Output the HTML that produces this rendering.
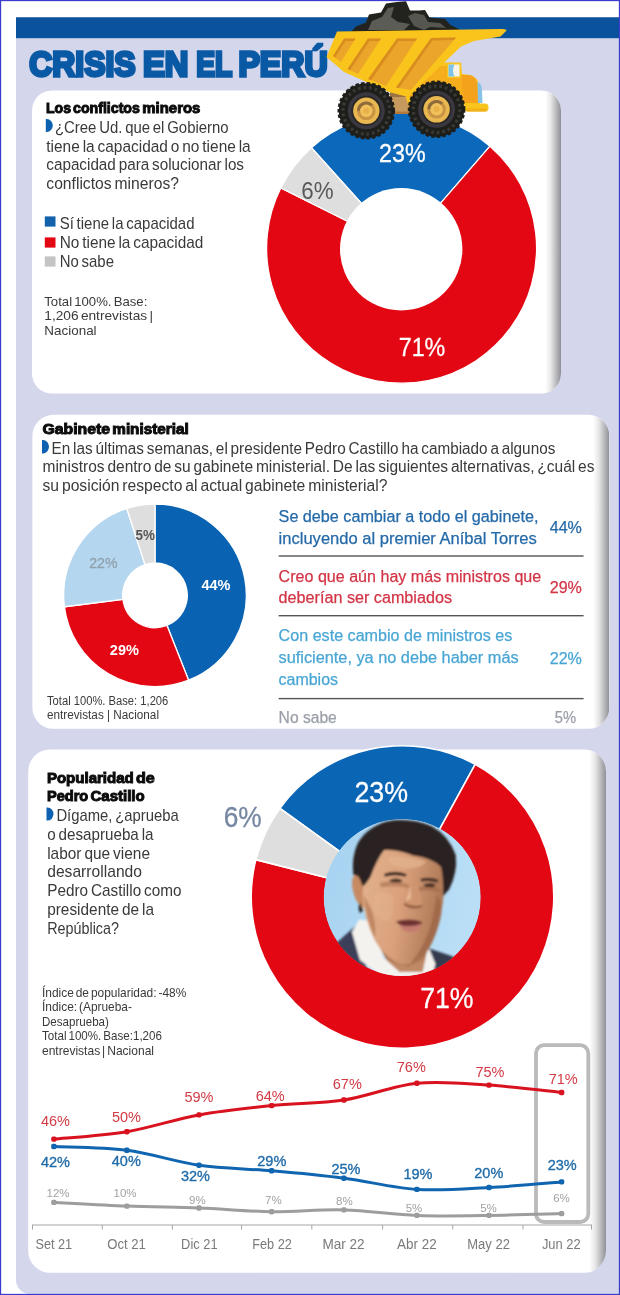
<!DOCTYPE html>
<html lang="es"><head><meta charset="utf-8"><title>Crisis en el Perú</title>
<style>
html,body{margin:0;padding:0;background:#fff;}
body{width:620px;height:1295px;overflow:hidden;position:relative;font-family:"Liberation Sans",sans-serif;}
svg{display:block;position:absolute;left:0;top:0;}
svg text{font-family:"Liberation Sans",sans-serif;white-space:pre;}
</style></head><body>
<svg width="620" height="1295" viewBox="0 0 620 1295">
<defs>
<linearGradient id="edge" x1="0" y1="0" x2="1" y2="0">
<stop offset="0" stop-color="#ffffff"/><stop offset="0.35" stop-color="#e6e6e6"/><stop offset="1" stop-color="#909197"/>
</linearGradient>
</defs>
<rect x="0" y="0" width="620" height="1295" fill="#fff"/>
<path d="M16,17 H619 V1294 H30 A14,14 0 0 1 16,1280 Z" fill="#d4d7ec"/>
<rect x="16" y="17.3" width="603" height="20.9" fill="#0a539c"/>
<rect x="0.5" y="0.5" width="619" height="1294" fill="none" stroke="#3b3bd0" stroke-width="1.3"/>
<text y="76.3" font-size="35.6" fill="#0a59a5" font-weight="bold" stroke="#0a59a5" stroke-width="3.3" stroke-linejoin="miter"><tspan x="29.2" textLength="106.4" lengthAdjust="spacingAndGlyphs">CRISIS</tspan> <tspan x="143.0" textLength="45.4" lengthAdjust="spacingAndGlyphs">EN</tspan> <tspan x="196.2" textLength="35.6" lengthAdjust="spacingAndGlyphs">EL</tspan> <tspan x="238.4" textLength="89.4" lengthAdjust="spacingAndGlyphs">PERÚ</tspan></text>
<clipPath id="c1"><rect x="32" y="90.4" width="529" height="303.20000000000005" rx="20" ry="20"/></clipPath>
<rect x="32" y="90.4" width="529" height="303.20000000000005" rx="20" ry="20" fill="#fff"/>
<rect x="545.5" y="90.4" width="15.5" height="303.20000000000005" fill="url(#edge)" clip-path="url(#c1)"/>
<text y="113.2" font-size="15" fill="#0c0c0c" font-weight="bold" stroke="#0c0c0c" stroke-width="1.0" stroke-linejoin="miter"><tspan x="45.9" textLength="25.1" lengthAdjust="spacingAndGlyphs">Los</tspan> <tspan x="73.0" textLength="66.9" lengthAdjust="spacingAndGlyphs">conflictos</tspan> <tspan x="142.3" textLength="58.1" lengthAdjust="spacingAndGlyphs">mineros</tspan></text>
<path d="M45.8,119 h1 a6,6.5 0 0 1 0,13 h-1 Z" fill="#0c62b0"/>
<text x="54.9" y="132.9" font-size="16.7" fill="#3a3a3a" textLength="173.7" lengthAdjust="spacingAndGlyphs" word-spacing="-1.5">¿Cree Ud. que el Gobierno</text>
<text x="46.3" y="151.8" font-size="16.7" fill="#3a3a3a" textLength="204.4" lengthAdjust="spacingAndGlyphs" word-spacing="-1.5">tiene la capacidad o no tiene la</text>
<text x="46.3" y="169.9" font-size="16.7" fill="#3a3a3a" textLength="197.7" lengthAdjust="spacingAndGlyphs" word-spacing="-1.5">capacidad para solucionar los</text>
<text x="46.3" y="188.7" font-size="16.7" fill="#3a3a3a" textLength="132.7" lengthAdjust="spacingAndGlyphs" word-spacing="-1.5">conflictos mineros?</text>
<rect x="44.8" y="216.4" width="10.7" height="10.2" fill="#1261ad"/>
<rect x="44.8" y="237.4" width="10.7" height="10.2" fill="#e30613"/>
<rect x="44.8" y="256.4" width="10.7" height="10.2" fill="#c4c4c4"/>
<text x="59.7" y="229.2" font-size="16.6" fill="#3a3a3a" textLength="134.8" lengthAdjust="spacingAndGlyphs" word-spacing="-1.5">Sí tiene la capacidad</text>
<text x="59.7" y="248.2" font-size="16.6" fill="#3a3a3a" textLength="143.6" lengthAdjust="spacingAndGlyphs" word-spacing="-1.5">No tiene la capacidad</text>
<text x="59.7" y="266.6" font-size="16.6" fill="#3a3a3a" textLength="54.3" lengthAdjust="spacingAndGlyphs" word-spacing="-1.5">No sabe</text>
<text x="44.3" y="305.7" font-size="13.6" fill="#3a3a3a" textLength="103.0" lengthAdjust="spacingAndGlyphs" word-spacing="-1.5">Total 100%. Base:</text>
<text x="44.3" y="320.0" font-size="13.6" fill="#3a3a3a" textLength="108.7" lengthAdjust="spacingAndGlyphs" word-spacing="-1.5">1,206 entrevistas |</text>
<text x="44.3" y="334.8" font-size="13.6" fill="#3a3a3a" textLength="52.3" lengthAdjust="spacingAndGlyphs">Nacional</text>
<path d="M311.44,147.72 A135,135 0 0 1 489.99,146.16 L438.27,205.87 A56,56 0 0 0 364.20,206.52 Z" fill="#0b68ba" stroke="#fff" stroke-width="1.3" stroke-linejoin="round"/>
<path d="M489.99,146.16 A135,135 0 1 1 280.78,187.96 L351.48,223.21 A56,56 0 1 0 438.27,205.87 Z" fill="#e30613" stroke="#fff" stroke-width="1.3" stroke-linejoin="round"/>
<path d="M280.78,187.96 A135,135 0 0 1 311.44,147.72 L364.20,206.52 A56,56 0 0 0 351.48,223.21 Z" fill="#dedede" stroke="#fff" stroke-width="1.3" stroke-linejoin="round"/>
<circle cx="401.2" cy="249.2" r="61.2" fill="#fff"/>
<text x="402.4" y="161.7" font-size="25.6" fill="#fff" textLength="46.6" lengthAdjust="spacingAndGlyphs" text-anchor="middle" stroke="#fff" stroke-width="0.3" stroke-linejoin="round">23%</text>
<text x="301.3" y="198.8" font-size="24.2" fill="#595959" textLength="32.3" lengthAdjust="spacingAndGlyphs">6%</text>
<text x="422.0" y="356.0" font-size="25.6" fill="#fff" textLength="46.6" lengthAdjust="spacingAndGlyphs" text-anchor="middle" stroke="#fff" stroke-width="0.3" stroke-linejoin="round">71%</text>
<clipPath id="c2"><rect x="32.4" y="414.8" width="576.9" height="313.99999999999994" rx="21" ry="21"/></clipPath>
<rect x="32.4" y="414.8" width="576.9" height="313.99999999999994" rx="21" ry="21" fill="#fff"/>
<rect x="593.3" y="414.8" width="16" height="313.99999999999994" fill="url(#edge)" clip-path="url(#c2)"/>
<text y="434.2" font-size="15" fill="#0c0c0c" font-weight="bold" stroke="#0c0c0c" stroke-width="1.0" stroke-linejoin="miter"><tspan x="42.5" textLength="67.5" lengthAdjust="spacingAndGlyphs">Gabinete</tspan> <tspan x="112.3" textLength="76.4" lengthAdjust="spacingAndGlyphs">ministerial</tspan></text>
<path d="M42,440 h1 a6,6.7 0 0 1 0,13.4 h-1 Z" fill="#0c62b0"/>
<text x="51.6" y="453.9" font-size="16" fill="#3a3a3a" textLength="503.7" lengthAdjust="spacingAndGlyphs" word-spacing="-1.5">En las últimas semanas, el presidente Pedro Castillo ha cambiado a algunos</text>
<text x="42.5" y="472.2" font-size="16" fill="#3a3a3a" textLength="552.0" lengthAdjust="spacingAndGlyphs" word-spacing="-1.5">ministros dentro de su gabinete ministerial. De las siguientes alternativas, ¿cuál es</text>
<text x="42.5" y="491.3" font-size="16" fill="#3a3a3a" textLength="344.9" lengthAdjust="spacingAndGlyphs" word-spacing="-1.5">su posición respecto al actual gabinete ministerial?</text>
<path d="M155.00,504.00 A91.3,91.3 0 0 1 188.61,680.19 L166.89,625.33 A32.3,32.3 0 0 0 155.00,563.00 Z" fill="#0a63b2" stroke="#fff" stroke-width="1.3" stroke-linejoin="round"/>
<path d="M188.61,680.19 A91.3,91.3 0 0 1 64.42,606.74 L122.95,599.35 A32.3,32.3 0 0 0 166.89,625.33 Z" fill="#e30613" stroke="#fff" stroke-width="1.3" stroke-linejoin="round"/>
<path d="M64.42,606.74 A91.3,91.3 0 0 1 126.79,508.47 L145.02,564.58 A32.3,32.3 0 0 0 122.95,599.35 Z" fill="#b5d6ef" stroke="#fff" stroke-width="1.3" stroke-linejoin="round"/>
<path d="M126.79,508.47 A91.3,91.3 0 0 1 155.00,504.00 L155.00,563.00 A32.3,32.3 0 0 0 145.02,564.58 Z" fill="#dedede" stroke="#fff" stroke-width="1.3" stroke-linejoin="round"/>
<text x="201.4" y="589.6" font-size="14" fill="#fff" font-weight="bold" textLength="29.0" lengthAdjust="spacingAndGlyphs">44%</text>
<text x="109.8" y="654.5" font-size="14" fill="#fff" font-weight="bold" textLength="29.1" lengthAdjust="spacingAndGlyphs">29%</text>
<text x="89.2" y="568.1" font-size="14" fill="#8fa2ae" textLength="28.3" lengthAdjust="spacingAndGlyphs" stroke="#8fa2ae" stroke-width="0.3" stroke-linejoin="round">22%</text>
<text x="135.6" y="540.4" font-size="14" fill="#555" font-weight="bold" textLength="19.4" lengthAdjust="spacingAndGlyphs">5%</text>
<text x="47.0" y="705.0" font-size="12.5" fill="#3a3a3a" textLength="121.3" lengthAdjust="spacingAndGlyphs">Total 100%. Base: 1,206</text>
<text x="47.0" y="718.6" font-size="12.5" fill="#3a3a3a" textLength="112.0" lengthAdjust="spacingAndGlyphs">entrevistas | Nacional</text>
<text x="278.6" y="521.9" font-size="16" fill="#256aa8" textLength="259.8" lengthAdjust="spacingAndGlyphs" stroke="#256aa8" stroke-width="0.25" stroke-linejoin="round">Se debe cambiar a todo el gabinete,</text>
<text x="278.6" y="543.6" font-size="16" fill="#256aa8" textLength="258.1" lengthAdjust="spacingAndGlyphs" stroke="#256aa8" stroke-width="0.25" stroke-linejoin="round">incluyendo al premier Aníbal Torres</text>
<text x="549.7" y="533.3" font-size="16" fill="#256aa8" textLength="32.2" lengthAdjust="spacingAndGlyphs" stroke="#256aa8" stroke-width="0.25" stroke-linejoin="round">44%</text>
<rect x="278.6" y="555.3" width="305" height="1.4" fill="#555"/>
<text x="278.6" y="581.5" font-size="16" fill="#d33546" textLength="262.6" lengthAdjust="spacingAndGlyphs" stroke="#d33546" stroke-width="0.25" stroke-linejoin="round">Creo que aún hay más ministros que</text>
<text x="278.6" y="602.8" font-size="16" fill="#d33546" textLength="173.4" lengthAdjust="spacingAndGlyphs" stroke="#d33546" stroke-width="0.25" stroke-linejoin="round">deberían ser cambiados</text>
<text x="549.7" y="593.1" font-size="16" fill="#d33546" textLength="32.2" lengthAdjust="spacingAndGlyphs" stroke="#d33546" stroke-width="0.25" stroke-linejoin="round">29%</text>
<rect x="278.6" y="615.0" width="305" height="1.4" fill="#555"/>
<text x="278.6" y="640.8" font-size="16" fill="#49a6d4" textLength="233.8" lengthAdjust="spacingAndGlyphs" stroke="#49a6d4" stroke-width="0.25" stroke-linejoin="round">Con este cambio de ministros es</text>
<text x="278.6" y="663.3" font-size="16" fill="#49a6d4" textLength="240.0" lengthAdjust="spacingAndGlyphs" stroke="#49a6d4" stroke-width="0.25" stroke-linejoin="round">suficiente, ya no debe haber más</text>
<text x="278.6" y="685.2" font-size="16" fill="#49a6d4" textLength="59.4" lengthAdjust="spacingAndGlyphs" stroke="#49a6d4" stroke-width="0.25" stroke-linejoin="round">cambios</text>
<text x="549.7" y="663.9" font-size="16" fill="#49a6d4" textLength="32.2" lengthAdjust="spacingAndGlyphs" stroke="#49a6d4" stroke-width="0.25" stroke-linejoin="round">22%</text>
<rect x="278.6" y="697.9" width="305" height="1.4" fill="#555"/>
<text x="278.6" y="722.6" font-size="16" fill="#9a9fa8" textLength="58.2" lengthAdjust="spacingAndGlyphs" stroke="#9a9fa8" stroke-width="0.25" stroke-linejoin="round">No sabe</text>
<text x="554.7" y="723.0" font-size="16" fill="#9a9fa8" textLength="21.3" lengthAdjust="spacingAndGlyphs" stroke="#9a9fa8" stroke-width="0.25" stroke-linejoin="round">5%</text>
<clipPath id="c3"><rect x="28.2" y="749.4" width="577.8" height="523.4" rx="22" ry="22"/></clipPath>
<rect x="28.2" y="749.4" width="577.8" height="523.4" rx="22" ry="22" fill="#fff"/>
<rect x="589.5" y="749.4" width="16.5" height="523.4" fill="url(#edge)" clip-path="url(#c3)"/>
<text y="783.1" font-size="15" fill="#0c0c0c" font-weight="bold" stroke="#0c0c0c" stroke-width="1.0" stroke-linejoin="miter"><tspan x="46.9" textLength="86.9" lengthAdjust="spacingAndGlyphs">Popularidad</tspan> <tspan x="136.0" textLength="18.8" lengthAdjust="spacingAndGlyphs">de</tspan></text>
<text y="801.3" font-size="15" fill="#0c0c0c" font-weight="bold" stroke="#0c0c0c" stroke-width="1.0" stroke-linejoin="miter"><tspan x="46.9" textLength="41.4" lengthAdjust="spacingAndGlyphs">Pedro</tspan> <tspan x="90.5" textLength="54.2" lengthAdjust="spacingAndGlyphs">Castillo</tspan></text>
<path d="M46.5,807.6 h1 a6,6.5 0 0 1 0,13 h-1 Z" fill="#0c62b0"/>
<text x="56.4" y="820.5" font-size="17" fill="#3a3a3a" textLength="122.4" lengthAdjust="spacingAndGlyphs" word-spacing="-1.5">Dígame, ¿aprueba</text>
<text x="47.2" y="839.7" font-size="17" fill="#3a3a3a" textLength="106.3" lengthAdjust="spacingAndGlyphs" word-spacing="-1.5">o desaprueba la</text>
<text x="47.2" y="858.7" font-size="17" fill="#3a3a3a" textLength="102.8" lengthAdjust="spacingAndGlyphs" word-spacing="-1.5">labor que viene</text>
<text x="47.2" y="877.1" font-size="17" fill="#3a3a3a" textLength="94.8" lengthAdjust="spacingAndGlyphs" word-spacing="-1.5">desarrollando</text>
<text x="47.2" y="895.7" font-size="17" fill="#3a3a3a" textLength="134.3" lengthAdjust="spacingAndGlyphs" word-spacing="-1.5">Pedro Castillo como</text>
<text x="47.2" y="914.7" font-size="17" fill="#3a3a3a" textLength="106.8" lengthAdjust="spacingAndGlyphs" word-spacing="-1.5">presidente de la</text>
<text x="47.2" y="933.5" font-size="17" fill="#3a3a3a" textLength="71.8" lengthAdjust="spacingAndGlyphs" word-spacing="-1.5">República?</text>
<text x="223.7" y="826.5" font-size="29.4" fill="#7687a3" textLength="38.0" lengthAdjust="spacingAndGlyphs" stroke="#7687a3" stroke-width="0.3" stroke-linejoin="round">6%</text>
<text x="42.0" y="996.8" font-size="13.2" fill="#3a3a3a" textLength="144.3" lengthAdjust="spacingAndGlyphs" word-spacing="-1.5">Índice de popularidad: -48%</text>
<text x="42.0" y="1010.9" font-size="13.2" fill="#3a3a3a" textLength="89.9" lengthAdjust="spacingAndGlyphs" word-spacing="-1.5">Índice: (Aprueba-</text>
<text x="42.0" y="1025.8" font-size="13.2" fill="#3a3a3a" textLength="66.9" lengthAdjust="spacingAndGlyphs" word-spacing="-1.5">Desaprueba)</text>
<text x="42.0" y="1040.0" font-size="13.2" fill="#3a3a3a" textLength="120.0" lengthAdjust="spacingAndGlyphs" word-spacing="-1.5">Total 100%. Base:1,206</text>
<text x="42.0" y="1055.1" font-size="13.2" fill="#3a3a3a" textLength="112.0" lengthAdjust="spacingAndGlyphs" word-spacing="-1.5">entrevistas | Nacional</text>
<path d="M279.94,808.28 A151.3,151.3 0 0 1 475.16,764.29 L436.12,835.60 A70,70 0 0 0 345.80,855.95 Z" fill="#0a65b5" stroke="#fff" stroke-width="1.6" stroke-linejoin="round"/>
<path d="M475.16,764.29 A151.3,151.3 0 1 1 255.89,859.63 L334.67,879.71 A70,70 0 1 0 436.12,835.60 Z" fill="#e30613" stroke="#fff" stroke-width="1.6" stroke-linejoin="round"/>
<path d="M255.89,859.63 A151.3,151.3 0 0 1 279.94,808.28 L345.80,855.95 A70,70 0 0 0 334.67,879.71 Z" fill="#dedede" stroke="#fff" stroke-width="1.6" stroke-linejoin="round"/>
<text x="354.4" y="801.8" font-size="29.4" fill="#fff" textLength="53.6" lengthAdjust="spacingAndGlyphs" stroke="#fff" stroke-width="0.3" stroke-linejoin="round">23%</text>
<text x="420.2" y="1008.2" font-size="29.4" fill="#fff" textLength="53.4" lengthAdjust="spacingAndGlyphs" stroke="#fff" stroke-width="0.3" stroke-linejoin="round">71%</text>
<g id="truck">
<path d="M351,32 L356,26.5 L366,22.5 L369,14.5 L381,12.5 L386,3.5 L397,2 L406,1.3 L410,10.5 L419,10.5 L425,10 L429.5,17.5 L445,19 L450.5,25 L458,28.5 L462,32 Z" fill="#22231e"/>
<path d="M368,30 L372,21 L382,17 L388,8 L394,7 L391,17 L398,22 L410,24 L404,30 Z" fill="#5b5c55"/>
<path d="M408,16 L415,13 L424,15 L428,22 L440,23 L446,28 L430,27 L424,30 L414,26 Z" fill="#55564f"/>
<path d="M390,92 H412 V114 H390 Z" fill="#c69a5e"/>
<path d="M390,92 H412 V97 H390 Z" fill="#9a7443"/>
<rect x="390" y="111.5" width="22" height="2.5" fill="#b5793a"/>
<path d="M405,95 L440,62.5 L461,62.5 L462,74 L470,75 Q478,77 479,86 L480,104 L455,106 L410,110 Z" fill="#f9c41b"/>
<path d="M408,96 L440,66 L447,66 L447,78 L462,78 L464,103 L420,103 Z" fill="#f6ae1c"/>
<path d="M461,75 L470,75 Q477,77 477.5,86 L478,103 L464,103 Z" fill="#f4a21c"/>
<rect x="448.5" y="64.5" width="11" height="12" fill="#f7f4e6"/>
<path d="M448.5,64.5 h6 q-3,6 0,12 h-6 Z" fill="#7cc3e6"/>
<path d="M477.5,82 q4,1 4.5,8 l0.5,13 h-4.5 Z" fill="#86c3e6"/>
<rect x="464" y="103.5" width="24.5" height="8" rx="3.5" fill="#f9c41b"/>
<rect x="466" y="108.5" width="21" height="3" rx="1.5" fill="#f0b21a"/>
<path d="M337,31.5 L500,29 Q507,28.5 506.5,30.5 L500.5,36.5 L474,41 L461,46.5 L408,97 L389,92 L344,72 L326.5,57 Z" fill="#f9c41b"/>
<path d="M344,38.5 L355.5,38.5 L341,62 L333,56 Z" fill="#eba52a"/>
<path d="M368,38.5 L381,38.5 L358,74 L347.5,69 Z" fill="#eba52a"/>
<path d="M397,38.5 L417,38.5 L386,86 L368,79 Z" fill="#eba52a"/>
<path d="M431,38 L456,37.5 L411,90 L396,87.5 Z" fill="#eba52a"/>
<path d="M344,38.5 L355.5,38.5 L354,41 L345.5,41 L335,57.5 L333,56 Z" fill="#d98d1f"/>
<path d="M368,38.5 L381,38.5 L379.5,41 L369.5,41 L350,70.2 L347.5,69 Z" fill="#d98d1f"/>
<path d="M397,38.5 L417,38.5 L415.5,41 L398.5,41 L371,80.2 L368,79 Z" fill="#d98d1f"/>
<path d="M431,38 L456,37.5 L454,40 L432.5,40.5 L399,88 L396,87.5 Z" fill="#d98d1f"/>
<circle cx="366.3" cy="110.8" r="27.6" fill="#1e1e1b"/>
<circle cx="366.3" cy="110.8" r="27.3" fill="none" stroke="#1e1e1b" stroke-width="3" stroke-dasharray="3.4 2.2"/>
<circle cx="366.3" cy="110.8" r="23.3" fill="none" stroke="#3a3b36" stroke-width="3.2" stroke-dasharray="2.6 3"/>
<circle cx="366.3" cy="110.8" r="18.5" fill="#3b3740"/>
<circle cx="366.3" cy="110.8" r="15" fill="#2a2826"/>
<circle cx="366.3" cy="110.8" r="13.2" fill="#e9b850"/>
<circle cx="366.3" cy="110.8" r="9.3" fill="#c99545"/>
<path d="M357.0,110.8 A9.3,9.3 0 0 1 372.8,104.2 L366.3,110.8 Z" fill="#8e6a3a"/>
<circle cx="366.3" cy="110.8" r="6.2" fill="#f1c25c"/>
<circle cx="366.3" cy="110.8" r="3" fill="#eab04a"/>
<circle cx="436.6" cy="109.3" r="27.6" fill="#1e1e1b"/>
<circle cx="436.6" cy="109.3" r="27.3" fill="none" stroke="#1e1e1b" stroke-width="3" stroke-dasharray="3.4 2.2"/>
<circle cx="436.6" cy="109.3" r="23.3" fill="none" stroke="#3a3b36" stroke-width="3.2" stroke-dasharray="2.6 3"/>
<circle cx="436.6" cy="109.3" r="18.5" fill="#3b3740"/>
<circle cx="436.6" cy="109.3" r="15" fill="#2a2826"/>
<circle cx="436.6" cy="109.3" r="13.2" fill="#e9b850"/>
<circle cx="436.6" cy="109.3" r="9.3" fill="#c99545"/>
<path d="M427.3,109.3 A9.3,9.3 0 0 1 443.1,102.7 L436.6,109.3 Z" fill="#8e6a3a"/>
<circle cx="436.6" cy="109.3" r="6.2" fill="#f1c25c"/>
<circle cx="436.6" cy="109.3" r="3" fill="#eab04a"/>
</g>
<clipPath id="ph"><circle cx="402.2" cy="897.3" r="78.6"/></clipPath>
<linearGradient id="phbg" x1="0" y1="0" x2="1" y2="0.3"><stop offset="0" stop-color="#a6d2f0"/><stop offset="1" stop-color="#b9def6"/></linearGradient>
<linearGradient id="skin" x1="0" y1="0" x2="1" y2="0.25"><stop offset="0" stop-color="#e4b390"/><stop offset="0.55" stop-color="#d9a07b"/><stop offset="1" stop-color="#b07a58"/></linearGradient>
<filter id="soft" x="-5%" y="-5%" width="110%" height="110%"><feGaussianBlur stdDeviation="3.2"/></filter>
<g clip-path="url(#ph)">
<circle cx="402.2" cy="897.3" r="78.6" fill="url(#phbg)"/>
<g transform="translate(320,815) scale(0.2661)" filter="url(#soft)">
<path d="M40,500 L132,418 L160,470 L180,620 L40,620 Z" fill="#3b4058"/>
<path d="M405,500 L500,532 L520,620 L400,620 Z" fill="#353a50"/>
<path d="M148,392 L120,440 L150,545 L240,612 L420,612 L434,560 L405,490 L330,560 L240,540 L200,400 Z" fill="#f4f2ef"/>
<path d="M215,480 L250,545 L300,590 L385,590 L405,500 L420,470 Z" fill="#b07856"/>
<path d="M250,545 L300,590 L385,590 L395,540 L330,570 Z" fill="#c08a66"/>
<path d="M150,225 Q118,215 120,262 Q128,330 165,350 L172,260 Z" fill="#c88a63"/>
<path d="M190,200 Q205,110 300,100 Q420,110 462,200 Q470,300 458,350 Q445,440 405,510 Q360,565 310,562 Q250,545 205,470 Q165,390 160,300 Q160,240 190,200 Z" fill="url(#skin)"/>
<path d="M440,300 Q462,330 455,380 Q440,450 405,510 Q375,545 340,560 Q400,480 420,400 Z" fill="#9a6446" opacity="0.7"/>
<path d="M165,300 Q170,380 205,460 Q215,420 195,360 Z" fill="#b97e5b" opacity="0.8"/>
<path d="M125,225 Q118,160 140,110 Q170,50 250,24 Q340,8 420,42 Q485,78 510,150 Q518,215 485,280 L462,305 Q465,240 455,195 Q420,160 350,152 Q290,130 240,132 Q212,170 190,232 Q172,262 160,268 Q150,235 140,228 Z" fill="#2a2321"/>
<path d="M150,330 Q140,350 150,368 L162,360 Z" fill="#2a2321"/>
<path d="M240,222 Q280,205 325,222 L322,232 Q280,220 245,232 Z" fill="#3a2a22"/>
<path d="M378,240 Q412,230 445,244 L442,254 Q410,244 380,250 Z" fill="#3a2a22"/>
<ellipse cx="285" cy="247" rx="24" ry="8" fill="#3b2a24"/>
<ellipse cx="412" cy="264" rx="22" ry="7.5" fill="#3b2a24"/>
<path d="M352,255 Q345,300 318,326 Q338,348 384,338 Q378,300 368,258 Z" fill="#cf9570"/>
<path d="M315,330 Q345,348 385,338 L383,347 Q345,358 317,340 Z" fill="#91593c"/>
<path d="M340,262 Q332,305 322,322 L342,316 Z" fill="#e9bb98"/>
<path d="M200,300 Q230,280 270,300 Q290,350 260,400 Q220,400 200,350 Z" fill="#e6b792" opacity="0.4"/>
<path d="M225,255 Q285,240 335,262 L335,275 Q285,262 228,272 Z" fill="#a8704e" opacity="0.6"/>
<path d="M372,272 Q412,262 450,278 L448,290 Q412,278 374,286 Z" fill="#9a6444" opacity="0.6"/>
<path d="M285,400 Q335,385 385,402 Q380,418 335,420 Q300,418 285,400 Z" fill="#6e3330"/>
<path d="M298,414 Q340,424 385,408 Q375,440 335,440 Q310,436 298,414 Z" fill="#c47a70"/>
<path d="M250,160 Q320,150 400,175 Q380,205 310,200 Q260,195 250,160 Z" fill="#e2b28d" opacity="0.8"/>
</g>
</g>
<path d="M32,1225 H592" stroke="#a6a6a6" stroke-width="1" fill="none"/>
<path d="M32.5,1225 v4.5" stroke="#a6a6a6" stroke-width="1" fill="none"/>
<path d="M102.3,1225 v4.5" stroke="#a6a6a6" stroke-width="1" fill="none"/>
<path d="M172.4,1225 v4.5" stroke="#a6a6a6" stroke-width="1" fill="none"/>
<path d="M241.6,1225 v4.5" stroke="#a6a6a6" stroke-width="1" fill="none"/>
<path d="M311.8,1225 v4.5" stroke="#a6a6a6" stroke-width="1" fill="none"/>
<path d="M382.6,1225 v4.5" stroke="#a6a6a6" stroke-width="1" fill="none"/>
<path d="M452.7,1225 v4.5" stroke="#a6a6a6" stroke-width="1" fill="none"/>
<path d="M523,1225 v4.5" stroke="#a6a6a6" stroke-width="1" fill="none"/>
<path d="M591.5,1225 v4.5" stroke="#a6a6a6" stroke-width="1" fill="none"/>
<rect x="536" y="1045.2" width="52.3" height="176.8" rx="8" fill="none" stroke="#bababa" stroke-width="3.8"/>
<path d="M53.9,1202.4 C66.1,1203.0 102.7,1205.2 126.9,1206.1 C151.1,1207.1 174.9,1207.1 199.0,1208.0 C223.1,1208.9 247.5,1211.4 271.6,1211.7 C295.8,1212.0 319.7,1209.2 343.9,1209.9 C368.1,1210.5 392.7,1214.5 416.9,1215.4 C441.1,1216.4 464.9,1215.8 489.0,1215.4 C513.1,1215.1 549.5,1213.9 561.6,1213.6" fill="none" stroke="#9d9d9d" stroke-width="3" stroke-linecap="round"/>
<rect x="51.2" y="1199.7" width="5.4" height="5.4" rx="1.8" fill="#9d9d9d"/>
<rect x="124.2" y="1203.4" width="5.4" height="5.4" rx="1.8" fill="#9d9d9d"/>
<rect x="196.3" y="1205.3" width="5.4" height="5.4" rx="1.8" fill="#9d9d9d"/>
<rect x="268.9" y="1209.0" width="5.4" height="5.4" rx="1.8" fill="#9d9d9d"/>
<rect x="341.2" y="1207.2" width="5.4" height="5.4" rx="1.8" fill="#9d9d9d"/>
<rect x="414.2" y="1212.7" width="5.4" height="5.4" rx="1.8" fill="#9d9d9d"/>
<rect x="486.3" y="1212.7" width="5.4" height="5.4" rx="1.8" fill="#9d9d9d"/>
<rect x="558.9" y="1210.9" width="5.4" height="5.4" rx="1.8" fill="#9d9d9d"/>
<path d="M53.9,1146.5 C66.1,1147.2 102.7,1147.2 126.9,1150.3 C151.1,1153.4 174.9,1161.8 199.0,1165.2 C223.1,1168.6 247.5,1168.6 271.6,1170.8 C295.8,1172.9 319.7,1175.1 343.9,1178.2 C368.1,1181.3 392.7,1187.8 416.9,1189.4 C441.1,1190.9 464.9,1188.8 489.0,1187.5 C513.1,1186.3 549.5,1182.9 561.6,1181.9" fill="none" stroke="#0f65b0" stroke-width="3" stroke-linecap="round"/>
<rect x="51.2" y="1143.8" width="5.4" height="5.4" rx="1.8" fill="#0f65b0"/>
<rect x="124.2" y="1147.6" width="5.4" height="5.4" rx="1.8" fill="#0f65b0"/>
<rect x="196.3" y="1162.5" width="5.4" height="5.4" rx="1.8" fill="#0f65b0"/>
<rect x="268.9" y="1168.1" width="5.4" height="5.4" rx="1.8" fill="#0f65b0"/>
<rect x="341.2" y="1175.5" width="5.4" height="5.4" rx="1.8" fill="#0f65b0"/>
<rect x="414.2" y="1186.7" width="5.4" height="5.4" rx="1.8" fill="#0f65b0"/>
<rect x="486.3" y="1184.8" width="5.4" height="5.4" rx="1.8" fill="#0f65b0"/>
<rect x="558.9" y="1179.2" width="5.4" height="5.4" rx="1.8" fill="#0f65b0"/>
<path d="M53.9,1139.1 C66.1,1137.9 102.7,1135.7 126.9,1131.7 C151.1,1127.6 174.9,1119.2 199.0,1114.9 C223.1,1110.5 247.5,1108.1 271.6,1105.6 C295.8,1103.1 319.7,1103.7 343.9,1100.0 C368.1,1096.3 392.7,1085.7 416.9,1083.2 C441.1,1080.8 464.9,1083.5 489.0,1085.1 C513.1,1086.7 549.5,1091.3 561.6,1092.5" fill="none" stroke="#d9121f" stroke-width="3" stroke-linecap="round"/>
<rect x="51.2" y="1136.4" width="5.4" height="5.4" rx="1.8" fill="#d9121f"/>
<rect x="124.2" y="1129.0" width="5.4" height="5.4" rx="1.8" fill="#d9121f"/>
<rect x="196.3" y="1112.2" width="5.4" height="5.4" rx="1.8" fill="#d9121f"/>
<rect x="268.9" y="1102.9" width="5.4" height="5.4" rx="1.8" fill="#d9121f"/>
<rect x="341.2" y="1097.3" width="5.4" height="5.4" rx="1.8" fill="#d9121f"/>
<rect x="414.2" y="1080.5" width="5.4" height="5.4" rx="1.8" fill="#d9121f"/>
<rect x="486.3" y="1082.4" width="5.4" height="5.4" rx="1.8" fill="#d9121f"/>
<rect x="558.9" y="1089.8" width="5.4" height="5.4" rx="1.8" fill="#d9121f"/>
<text x="35.4" y="1248.8" font-size="13.8" fill="#7a7a7a" textLength="36.8" lengthAdjust="spacingAndGlyphs">Set 21</text>
<text x="107.2" y="1248.8" font-size="13.8" fill="#7a7a7a" textLength="38.7" lengthAdjust="spacingAndGlyphs">Oct 21</text>
<text x="181.1" y="1248.8" font-size="13.8" fill="#7a7a7a" textLength="36.5" lengthAdjust="spacingAndGlyphs">Dic 21</text>
<text x="252.2" y="1248.8" font-size="13.8" fill="#7a7a7a" textLength="39.7" lengthAdjust="spacingAndGlyphs">Feb 22</text>
<text x="322.4" y="1248.8" font-size="13.8" fill="#7a7a7a" textLength="42.2" lengthAdjust="spacingAndGlyphs">Mar 22</text>
<text x="397.0" y="1248.8" font-size="13.8" fill="#7a7a7a" textLength="39.7" lengthAdjust="spacingAndGlyphs">Abr 22</text>
<text x="467.3" y="1248.8" font-size="13.8" fill="#7a7a7a" textLength="42.6" lengthAdjust="spacingAndGlyphs">May 22</text>
<text x="541.9" y="1248.8" font-size="13.8" fill="#7a7a7a" textLength="38.8" lengthAdjust="spacingAndGlyphs">Jun 22</text>
<text x="55.5" y="1126.2" font-size="14.5" fill="#d23a44" text-anchor="middle">46%</text>
<text x="126.5" y="1122.2" font-size="14.5" fill="#d23a44" text-anchor="middle">50%</text>
<text x="199.0" y="1101.8" font-size="14.5" fill="#d23a44" text-anchor="middle">59%</text>
<text x="270.2" y="1100.8" font-size="14.5" fill="#d23a44" text-anchor="middle">64%</text>
<text x="347.3" y="1089.2" font-size="14.5" fill="#d23a44" text-anchor="middle">67%</text>
<text x="411.3" y="1072.2" font-size="14.5" fill="#d23a44" text-anchor="middle">76%</text>
<text x="490.0" y="1077.4" font-size="14.5" fill="#d23a44" text-anchor="middle">75%</text>
<text x="563.2" y="1084.4" font-size="14.5" fill="#d23a44" text-anchor="middle">71%</text>
<text x="55.5" y="1167.0" font-size="14.5" fill="#216ca9" text-anchor="middle" stroke="#216ca9" stroke-width="0.35" stroke-linejoin="round">42%</text>
<text x="126.3" y="1165.6" font-size="14.5" fill="#216ca9" text-anchor="middle" stroke="#216ca9" stroke-width="0.35" stroke-linejoin="round">40%</text>
<text x="195.5" y="1181.2" font-size="14.5" fill="#216ca9" text-anchor="middle" stroke="#216ca9" stroke-width="0.35" stroke-linejoin="round">32%</text>
<text x="271.8" y="1166.4" font-size="14.5" fill="#216ca9" text-anchor="middle" stroke="#216ca9" stroke-width="0.35" stroke-linejoin="round">29%</text>
<text x="346.0" y="1173.7" font-size="14.5" fill="#216ca9" text-anchor="middle" stroke="#216ca9" stroke-width="0.35" stroke-linejoin="round">25%</text>
<text x="418.0" y="1179.2" font-size="14.5" fill="#216ca9" text-anchor="middle" stroke="#216ca9" stroke-width="0.35" stroke-linejoin="round">19%</text>
<text x="488.8" y="1177.8" font-size="14.5" fill="#216ca9" text-anchor="middle" stroke="#216ca9" stroke-width="0.35" stroke-linejoin="round">20%</text>
<text x="562.2" y="1169.6" font-size="14.5" fill="#216ca9" text-anchor="middle" stroke="#216ca9" stroke-width="0.35" stroke-linejoin="round">23%</text>
<text x="58.0" y="1197.4" font-size="11.5" fill="#a2a2a2" text-anchor="middle">12%</text>
<text x="125.0" y="1197.2" font-size="11.5" fill="#a2a2a2" text-anchor="middle">10%</text>
<text x="197.3" y="1204.0" font-size="11.5" fill="#a2a2a2" text-anchor="middle">9%</text>
<text x="273.3" y="1203.7" font-size="11.5" fill="#a2a2a2" text-anchor="middle">7%</text>
<text x="344.3" y="1204.7" font-size="11.5" fill="#a2a2a2" text-anchor="middle">8%</text>
<text x="414.0" y="1211.8" font-size="11.5" fill="#a2a2a2" text-anchor="middle">5%</text>
<text x="488.5" y="1212.4" font-size="11.5" fill="#a2a2a2" text-anchor="middle">5%</text>
<text x="561.5" y="1201.8" font-size="11.5" fill="#a2a2a2" text-anchor="middle">6%</text>
</svg>
</body></html>
